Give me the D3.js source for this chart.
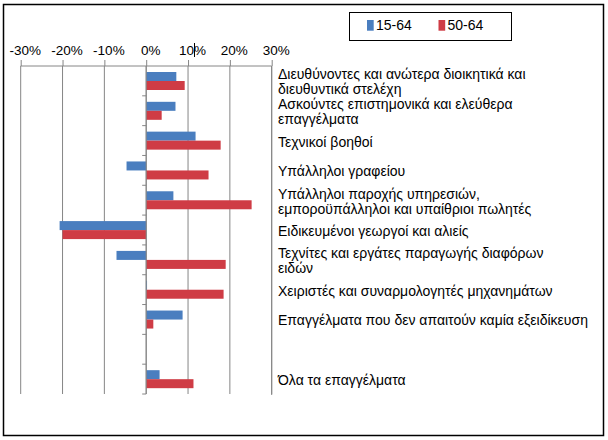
<!DOCTYPE html>
<html>
<head>
<meta charset="utf-8">
<script src="https://cdn.jsdelivr.net/npm/d3@7"></script>
<style>
  body { margin: 0; background: #fff; }
  svg { display: block; font-family: "Liberation Sans", Arial, sans-serif; }
</style>
</head>
<body>
<div id="container"></div>
<script>
/* DATA */
const categories = [
  ["Διευθύνοντες και ανώτερα διοικητικά και", "διευθυντικά στελέχη"],
  ["Ασκούντες επιστημονικά και ελεύθερα", "επαγγέλματα"],
  ["Τεχνικοί βοηθοί"],
  ["Υπάλληλοι γραφείου"],
  ["Υπάλληλοι παροχής υπηρεσιών,", "εμποροϋπάλληλοι και υπαίθριοι πωλητές"],
  ["Ειδικευμένοι γεωργοί και αλιείς"],
  ["Τεχνίτες και εργάτες παραγωγής διαφόρων", "ειδών"],
  ["Χειριστές και συναρμολογητές μηχανημάτων"],
  ["Επαγγέλματα που δεν απαιτούν καμία εξειδίκευση"],
  [],
  ["Όλα τα επαγγέλματα"]
]
const seriesNames = ["15-64", "50-64"]
const values1564 = [0.072, 0.070, 0.118, -0.047, 0.065, -0.207, -0.071, 0.002, 0.087, null, 0.032]
const values5064 = [0.092, 0.037, 0.178, 0.149, 0.252, -0.200, 0.190, 0.185, 0.017, null, 0.113]
const xTicks = [-0.3, -0.2, -0.1, 0, 0.1, 0.2, 0.3]

/* CONSTANTS */
const width = 608, height = 440
const plot = { left: 20.7, right: 271.7, top: 66, bottom: 394 }
const colors = ["#4a7ebf", "#cf3c45"]

const svg = d3.select("#container")
  .append("svg")
  .attr("width", width)
  .attr("height", height)

// outer frame
svg.append("rect")
  .attr("x", 3.5).attr("y", 4.5)
  .attr("width", 600).attr("height", 431)
  .attr("fill", "none")
  .attr("stroke", "#000")
  .attr("stroke-width", 1.5)

const xScale = d3.scaleLinear()
  .domain([-0.3, 0.3])
  .range([plot.left, plot.right])

const yScale = d3.scaleBand()
  .domain(d3.range(categories.length))
  .range([plot.top, plot.bottom])

const subScale = d3.scaleBand()
  .domain(seriesNames)
  .range([6, 24])

// vertical gridlines
svg.append("g")
  .selectAll("line")
  .data(xTicks)
  .join("line")
  .attr("x1", d => xScale(d)).attr("x2", d => xScale(d))
  .attr("y1", plot.top).attr("y2", plot.bottom)
  .attr("stroke", "#868686")
  .attr("stroke-width", 1)

// top axis
const xAxis = d3.axisTop(xScale)
  .tickValues(xTicks)
  .tickSize(6)
  .tickPadding(5)
  .tickFormat(d => Math.round(d * 100) + "%")

svg.append("g")
  .attr("class", "x-axis")
  .attr("transform", `translate(0, ${plot.top})`)
  .call(xAxis)
  .call(g => g.select(".domain").attr("stroke", "#868686").attr("d", `M${plot.left},0H${plot.right}`))
  .call(g => g.selectAll(".tick line").attr("stroke", "#868686"))
  .call(g => g.selectAll(".tick text")
    .attr("fill", "#000")
    .attr("font-size", "13.5px")
    .attr("font-family", "'Liberation Sans', Arial, sans-serif")
    .attr("dx", 4))

// bars
const rows = categories.map((c, i) => ({ i, vals: [values1564[i], values5064[i]] }))

const groups = svg.append("g")
  .selectAll("g")
  .data(rows)
  .join("g")
  .attr("transform", d => `translate(0, ${yScale(d.i)})`)

groups.selectAll("rect")
  .data(d => d.vals.map((v, k) => ({ v, name: seriesNames[k], k })).filter(e => e.v !== null))
  .join("rect")
  .attr("x", d => xScale(Math.min(0, d.v)))
  .attr("width", d => Math.abs(xScale(d.v) - xScale(0)))
  .attr("y", d => subScale(d.name))
  .attr("height", subScale.bandwidth())
  .attr("fill", d => colors[d.k])

// category axis at zero
const yAxisG = svg.append("g")
  .attr("transform", `translate(${xScale(0)}, 0)`)
yAxisG.append("line")
  .attr("y1", plot.top).attr("y2", plot.bottom)
  .attr("stroke", "#868686")
yAxisG.selectAll("line.tick")
  .data(d3.range(1, categories.length + 1))
  .join("line")
  .attr("class", "tick")
  .attr("x1", -4).attr("x2", 0)
  .attr("y1", d => yScale.step() * d + plot.top)
  .attr("y2", d => yScale.step() * d + plot.top)
  .attr("stroke", "#868686")

// right border line of plot
svg.append("line")
  .attr("x1", plot.right).attr("x2", plot.right)
  .attr("y1", plot.top).attr("y2", plot.bottom + 1)
  .attr("stroke", "#868686")

// category labels on the right
const lineH = 15
svg.append("g")
  .selectAll("text")
  .data(rows)
  .join("text")
  .attr("x", 278)
  .attr("y", d => yScale(d.i) + yScale.bandwidth() / 2 + 1)
  .attr("font-size", "14px")
  .attr("fill", "#000")
  .each(function (d) {
    const lines = categories[d.i]
    const t = d3.select(this)
    lines.forEach((l, j) => {
      t.append("tspan")
        .attr("x", 278)
        .attr("dy", j === 0 ? ((-(lines.length - 1) / 2) * lineH + 5) : lineH)
        .text(l)
    })
  })

// legend
const legend = svg.append("g")
legend.append("rect")
  .attr("x", 349.5).attr("y", 12.5)
  .attr("width", 162).attr("height", 28)
  .attr("fill", "#fff")
  .attr("stroke", "#000")
  .attr("stroke-width", 1)
const legendX = [367, 438.5]
seriesNames.forEach((name, k) => {
  legend.append("rect")
    .attr("x", legendX[k]).attr("y", 20)
    .attr("width", 6.7).attr("height", 10.7)
    .attr("fill", colors[k])
  legend.append("text")
    .attr("x", legendX[k] + 9).attr("y", 30)
    .attr("font-size", "14px")
    .attr("fill", "#000")
    .text(name)
})

// stray cursor mark near the 10% label
svg.append("line")
  .attr("x1", 194.5).attr("x2", 194.5)
  .attr("y1", 43).attr("y2", 57)
  .attr("stroke", "#000")
</script>
</body>
</html>
